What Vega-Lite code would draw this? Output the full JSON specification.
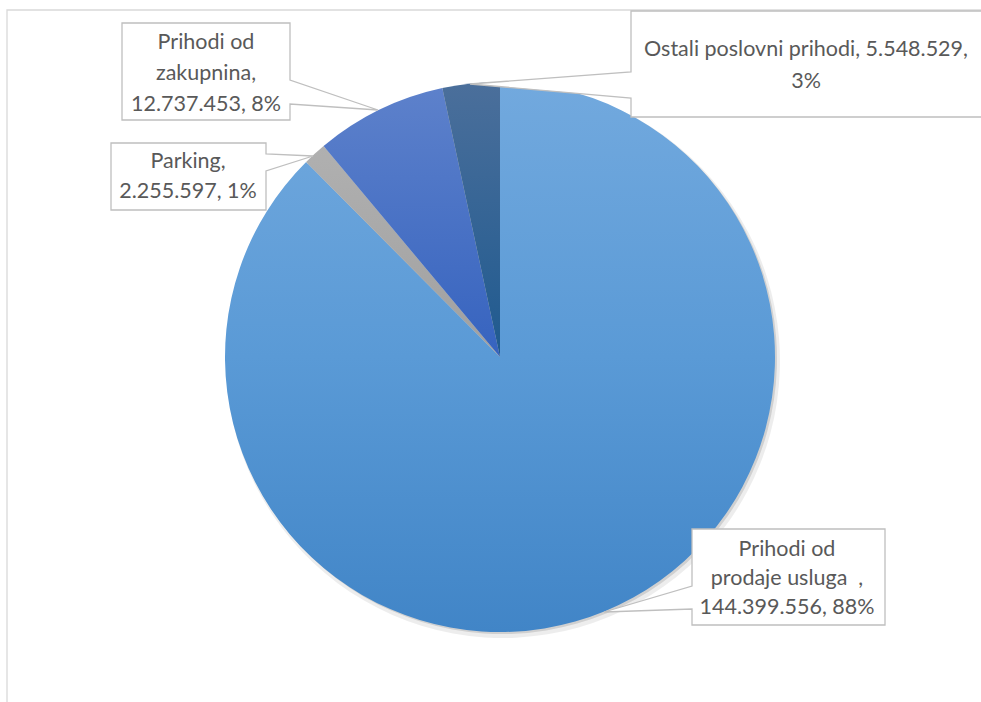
{
  "$schema": "https://vega.github.io/schema/vega-lite/v6.json",
  "autosize": "none",
  "padding": {"left": 7, "top": 10, "right": -12, "bottom": -2},
  "width": 986,
  "height": 694,
  "background": "white",
  "config": {"view": {"stroke": "#d9d9d9", "strokeWidth": 1}},
  "data": {
    "values": [
      {"category": "Prihodi od prodaje usluga", "value": 144399556, "order": 1, "label": ["Prihodi od", "prodaje usluga \u00a0,", "144.399.556, 88%"]},
      {"category": "Parking", "value": 2255597, "order": 2, "label": ["Parking,", "2.255.597, 1%"]},
      {"category": "Prihodi od zakupnina", "value": 12737453, "order": 3, "label": ["Prihodi od", "zakupnina,", "12.737.453, 8%"]},
      {"category": "Ostali poslovni prihodi", "value": 5548529, "order": 4, "label": ["Ostali poslovni prihodi, 5.548.529,", "3%"]}
    ]
  },
  "transform": [
    {"stack": "value", "groupby": [], "sort": [{"field": "order", "order": "ascending"}], "as": ["v0", "v1"]}
  ],
  "layer": [
    {
      "transform": [{"filter": "datum.order == 1"}],
      "mark": {"type": "rect", "fill": "white", "fillOpacity": 0, "stroke": "#d9d9d9", "strokeWidth": 1.3},
      "encoding": {}
    },
    {
      "mark": {"type": "arc", "outerRadius": 277, "color": "#000000", "opacity": 0.07, "xOffset": 3, "yOffset": 4},
      "encoding": {
        "theta": {"field": "v0", "type": "quantitative", "scale": {"domain": [0, 164941135]}},
        "theta2": {"field": "v1"}
      }
    },
    {
      "mark": {"type": "arc", "outerRadius": 275, "color": "#000000", "opacity": 0.12, "xOffset": 2, "yOffset": 2},
      "encoding": {
        "theta": {"field": "v0", "type": "quantitative"},
        "theta2": {"field": "v1"}
      }
    },
    {
      "transform": [{"filter": "datum.order == 1"}],
      "mark": {"type": "arc", "outerRadius": 275, "color": {"gradient": "linear", "x1": 0, "y1": 0, "x2": 0, "y2": 1, "stops": [{"offset": 0, "color": "#72a9de"}, {"offset": 0.5, "color": "#5a9ad6"}, {"offset": 1, "color": "#4185c7"}]}},
      "encoding": {
        "theta": {"field": "v0", "type": "quantitative"},
        "theta2": {"field": "v1"}
      }
    },
    {
      "transform": [{"filter": "datum.order == 2"}],
      "mark": {"type": "arc", "outerRadius": 275, "color": {"gradient": "linear", "x1": 0, "y1": 0, "x2": 0, "y2": 1, "stops": [{"offset": 0, "color": "#b0b0b0"}, {"offset": 1, "color": "#a0a0a0"}]}},
      "encoding": {
        "theta": {"field": "v0", "type": "quantitative"},
        "theta2": {"field": "v1"}
      }
    },
    {
      "transform": [{"filter": "datum.order == 3"}],
      "mark": {"type": "arc", "outerRadius": 275, "color": {"gradient": "linear", "x1": 0, "y1": 0, "x2": 0, "y2": 1, "stops": [{"offset": 0, "color": "#5d81cb"}, {"offset": 1, "color": "#3663bf"}]}},
      "encoding": {
        "theta": {"field": "v0", "type": "quantitative"},
        "theta2": {"field": "v1"}
      }
    },
    {
      "transform": [{"filter": "datum.order == 4"}],
      "mark": {"type": "arc", "outerRadius": 275, "color": {"gradient": "linear", "x1": 0, "y1": 0, "x2": 0, "y2": 1, "stops": [{"offset": 0, "color": "#4b6f9b"}, {"offset": 1, "color": "#1f5a8f"}]}},
      "encoding": {
        "theta": {"field": "v0", "type": "quantitative"},
        "theta2": {"field": "v1"}
      }
    },
    {
      "mark": {"type": "point", "filled": true, "fill": "white", "stroke": "#bfbfbf", "strokeWidth": 1.3, "size": 4, "opacity": 1, "fillOpacity": 1, "strokeOpacity": 1},
      "encoding": {
        "shape": {
          "field": "category",
          "type": "nominal",
          "legend": null,
          "scale": {
            "domain": ["Prihodi od prodaje usluga", "Parking", "Prihodi od zakupnina", "Ostali poslovni prihodi"],
            "range": [
              "M192,172H385V268H192V252L104,255L192,229Z",
              "M-389,-214H-234V-203L-187,-201L-234,-186V-147H-389Z",
              "M-378,-334H-210V-277L-122,-247L-210,-253V-237H-378Z",
              "M131,-346H520V-240H131V-259L-30,-273L131,-285Z"
            ]
          }
        }
      }
    },
    {
      "transform": [{"filter": "datum.order == 1"}],
      "mark": {"type": "text", "dx": 287, "dy": 193, "align": "center", "baseline": "middle", "font": "Lato", "fontSize": 21.5, "lineHeight": 29, "color": "#595959"},
      "encoding": {"text": {"field": "label"}}
    },
    {
      "transform": [{"filter": "datum.order == 2"}],
      "mark": {"type": "text", "dx": -312, "dy": -195, "align": "center", "baseline": "middle", "font": "Lato", "fontSize": 21.5, "lineHeight": 30, "color": "#595959"},
      "encoding": {"text": {"field": "label"}}
    },
    {
      "transform": [{"filter": "datum.order == 3"}],
      "mark": {"type": "text", "dx": -294, "dy": -314, "align": "center", "baseline": "middle", "font": "Lato", "fontSize": 21.5, "lineHeight": 31, "color": "#595959"},
      "encoding": {"text": {"field": "label"}}
    },
    {
      "transform": [{"filter": "datum.order == 4"}],
      "mark": {"type": "text", "dx": 306, "dy": -307, "align": "center", "baseline": "middle", "font": "Lato", "fontSize": 21.5, "lineHeight": 32, "color": "#595959"},
      "encoding": {"text": {"field": "label"}}
    }
  ]
}
